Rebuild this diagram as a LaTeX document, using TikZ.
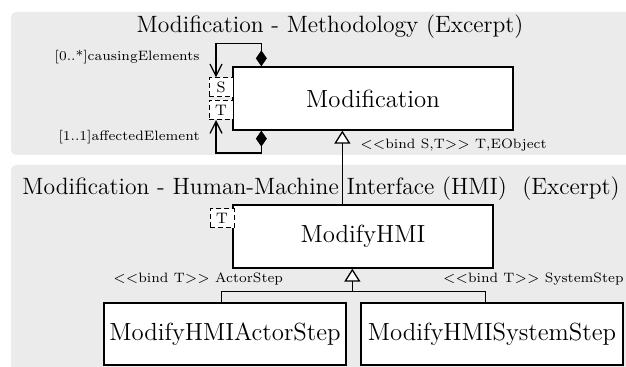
\documentclass[tikz,border=0pt]{standalone}
\usetikzlibrary{arrows.meta,calc}
\definecolor{panelgray}{RGB}{235,235,235}
\newcommand{\dlt}{$<<$}
\newcommand{\dgt}{$>>$}
\tikzset{
  panel/.style={fill=panelgray,draw=none,rounded corners=2.5pt},
  ttl/.style={font=\fontsize{11.8}{14}\selectfont,inner sep=0pt},
  cls/.style={draw,fill=white,line width=0.65pt,inner sep=0pt,font=\fontsize{12.4}{14}\selectfont},
  tmpl/.style={draw,dashed,dash pattern=on 2.5pt off 1.5pt,fill=white,line width=0.5pt,inner sep=0pt,minimum width=12pt,minimum height=9.5pt,font=\fontsize{7.6}{9}\selectfont},
  lbl/.style={font=\fontsize{6.8}{8}\selectfont,inner sep=0pt},
  conn/.style={line width=0.65pt},
  comp/.style={conn,{Diamond[length=8pt,width=5.5pt]}-{Straight Barb[length=6pt,width=6pt]}},
  gen/.style={conn,-{Triangle[open,fill=white,length=6.5pt,width=8pt]}}
}
\begin{document}
\begin{tikzpicture}[x=0.5pt,y=-0.5pt]
\useasboundingbox (0,0) rectangle (626,367);
\clip (0,0) rectangle (626,367);
% panels
\path[panel] (11,12) rectangle (660,155);
\path[panel] (11,165) rectangle (660,400);
% titles
\node[ttl,anchor=base] (t1) at (330,33) {Modification - Methodology (Excerpt)};
\node[ttl,anchor=base west] (t2) at (22,195) {Modification - Human-Machine Interface (HMI)\ \ (Excerpt)};
% classes
\node[cls,minimum width=140pt,minimum height=31.5pt] (Mod) at (373,98.5) {Modification};
\node[tmpl] (S) at (221,87.5) {S};
\node[tmpl] (T1) at (221,110) {T};
\node[cls,minimum width=130pt,minimum height=31.5pt] (HMI) at (363,236.5) {ModifyHMI};
\node[tmpl] (T2) at (222,218.5) {T};
\node[cls,minimum width=121pt,minimum height=31pt] (Actor) at (225,334) {ModifyHMIActorStep};
\node[cls,minimum width=131pt,minimum height=31pt] (System) at (492,334) {ModifyHMISystemStep};
% compositions
\draw[comp] ([xshift=14.5pt]Mod.north west) |- ([xshift=-2.5pt,yshift=17pt]S.north) -- ([xshift=-2.5pt]S.north);
\draw[comp] ([xshift=14.5pt]Mod.south west) |- ([xshift=-2.5pt,yshift=-16.5pt]T1.south) -- ([xshift=-2.5pt]T1.south);
\node[lbl,anchor=east] (l1) at (200,57) {[0..*]causingElements};
\node[lbl,anchor=east] (l2) at (200,137) {[1..1]affectedElement};
% generalization Methodology
\draw[gen] ([xshift=55pt]HMI.north west) -- ([xshift=55pt]Mod.south west);
\node[lbl,anchor=west] (l3) at (360,145) {\dlt bind S,T\dgt{} T,EObject};
% generalization HMI
\coordinate (j) at ([xshift=60pt,yshift=-11.5pt]HMI.south west);
\draw[gen] ([xshift=59pt]Actor.north west) |- (j) -- (j |- HMI.south);
\draw[conn] ([xshift=62.5pt]System.north west) |- (j);
\node[lbl,anchor=west] (l4) at (113,279) {\dlt bind T\dgt{} ActorStep};
\node[lbl,anchor=east] (l5) at (624,279) {\dlt bind T\dgt{} SystemStep};
\end{tikzpicture}
\end{document}
